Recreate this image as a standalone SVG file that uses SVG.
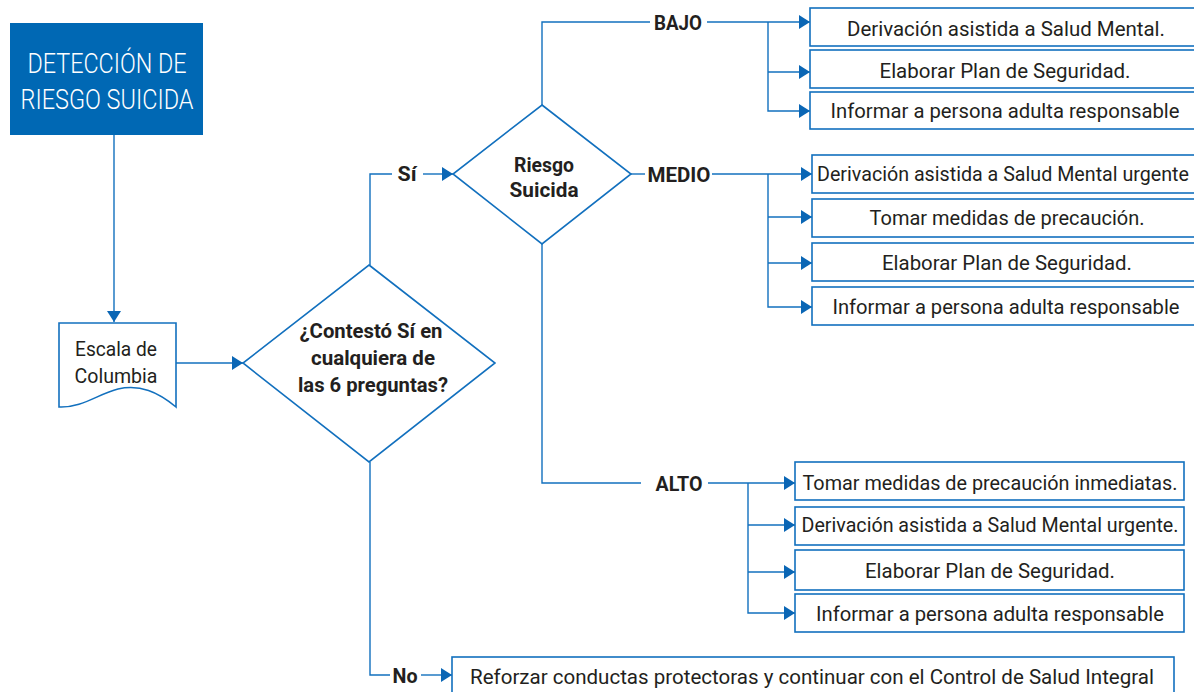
<svg xmlns="http://www.w3.org/2000/svg" width="1194" height="692" viewBox="0 0 1194 692">
<style>
.ln{fill:none;stroke:#1270BE;stroke-width:1.4}
.bx{fill:#fff;stroke:#1270BE;stroke-width:1.6}
.t{font-family:Roboto,"Noto Sans","Liberation Sans",sans-serif;font-size:21px;fill:#231F20;text-anchor:middle}
.b{font-weight:bold}
.w{fill:#fff;font-size:28px;font-weight:300}
.s{font-size:19.5px}
</style>
<defs>
<marker id="ah" markerUnits="userSpaceOnUse" markerWidth="12" markerHeight="15" refX="11" refY="7.5" orient="auto">
<path d="M0,0.5 L11,7.5 L0,14.5 z" fill="#0A66B5"/>
</marker>
</defs>
<g id="connectors">
<path class="ln" d="M114,135 V322" marker-end="url(#ah)"/>
<path class="ln" d="M176,363 H243" marker-end="url(#ah)"/>
<path class="ln" d="M370,265 V174 H392"/>
<path class="ln" d="M423,174 H453" marker-end="url(#ah)"/>
<path class="ln" d="M542,105 V22 H650"/>
<path class="ln" d="M707,22 H810" marker-end="url(#ah)"/>
<path class="ln" d="M768,22 V111 H810" marker-end="url(#ah)"/>
<path class="ln" d="M768,72 H810" marker-end="url(#ah)"/>
<path class="ln" d="M631,174 H645"/>
<path class="ln" d="M712,174 H812" marker-end="url(#ah)"/>
<path class="ln" d="M768,174 V307 H812" marker-end="url(#ah)"/>
<path class="ln" d="M768,217 H812" marker-end="url(#ah)"/>
<path class="ln" d="M768,263 H812" marker-end="url(#ah)"/>
<path class="ln" d="M542,244 V483 H641"/>
<path class="ln" d="M708,483 H795" marker-end="url(#ah)"/>
<path class="ln" d="M748,483 V613 H795" marker-end="url(#ah)"/>
<path class="ln" d="M748,525 H795" marker-end="url(#ah)"/>
<path class="ln" d="M748,572 H795" marker-end="url(#ah)"/>
<path class="ln" d="M370,462 V675 H390"/>
<path class="ln" d="M421,675 H452" marker-end="url(#ah)"/>
</g>
<g id="labels">
<text class="t b" x="407" y="181" textLength="19" lengthAdjust="spacingAndGlyphs">Sí</text>
<text class="t b" x="678" y="30" textLength="48" lengthAdjust="spacingAndGlyphs">BAJO</text>
<text class="t b" x="679" y="182" textLength="63" lengthAdjust="spacingAndGlyphs">MEDIO</text>
<text class="t b" x="679" y="491" textLength="47" lengthAdjust="spacingAndGlyphs">ALTO</text>
<text class="t b" x="405" y="683" textLength="25" lengthAdjust="spacingAndGlyphs">No</text>
</g>
<g id="title">
<rect x="10" y="23" width="193" height="112" fill="#0068B4"/>
<text class="t w" x="107" y="73" textLength="159" lengthAdjust="spacingAndGlyphs">DETECCIÓN DE</text>
<text class="t w" x="107" y="109" textLength="173" lengthAdjust="spacingAndGlyphs">RIESGO SUICIDA</text>
</g>
<g id="escala">
<path class="bx" d="M59,323 H176 V407 C158,392 140,384 118,389 C98,394 82,408 59,407 Z"/>
<text class="t" x="116" y="356" font-size="22" textLength="82" lengthAdjust="spacingAndGlyphs">Escala de</text>
<text class="t" x="116" y="383" font-size="22" textLength="83" lengthAdjust="spacingAndGlyphs">Columbia</text>
</g>
<g id="pregunta">
<path class="bx" d="M369,265 L495,363 L369,462 L243,363 Z" stroke-width="1.3"/>
<text class="t b" x="371" y="338" font-size="22" textLength="143" lengthAdjust="spacingAndGlyphs">¿Contestó Sí en</text>
<text class="t b" x="373" y="365" font-size="22" textLength="124" lengthAdjust="spacingAndGlyphs">cualquiera de</text>
<text class="t b" x="373" y="392" font-size="22" textLength="150" lengthAdjust="spacingAndGlyphs">las 6 preguntas?</text>
</g>
<g id="riesgo">
<path class="bx" d="M542,105 L631,174 L542,244 L453,174 Z" stroke-width="1.3"/>
<text class="t b" x="544" y="172" font-size="22" textLength="60" lengthAdjust="spacingAndGlyphs">Riesgo</text>
<text class="t b" x="544" y="197" font-size="22" textLength="69" lengthAdjust="spacingAndGlyphs">Suicida</text>
</g>
<g id="bajo1"><rect class="bx" x="810" y="8" width="400" height="38"/><text class="t" x="1006" y="36" textLength="318" lengthAdjust="spacingAndGlyphs">Derivación asistida a Salud Mental.</text></g>
<g id="bajo2"><rect class="bx" x="810" y="50" width="400" height="38"/><text class="t" x="1005" y="78" textLength="251" lengthAdjust="spacingAndGlyphs">Elaborar Plan de Seguridad.</text></g>
<g id="bajo3"><rect class="bx" x="810" y="92" width="400" height="37"/><text class="t" x="1005" y="118" textLength="349" lengthAdjust="spacingAndGlyphs">Informar a persona adulta responsable</text></g>
<g id="medio1"><rect class="bx" x="812" y="155" width="400" height="38"/><text class="t s" x="1003" y="181" textLength="372" lengthAdjust="spacingAndGlyphs">Derivación asistida a Salud Mental urgente</text></g>
<g id="medio2"><rect class="bx" x="812" y="199" width="400" height="38"/><text class="t" x="1007" y="225" textLength="275" lengthAdjust="spacingAndGlyphs">Tomar medidas de precaución.</text></g>
<g id="medio3"><rect class="bx" x="812" y="243" width="400" height="38"/><text class="t" x="1007" y="270" textLength="250" lengthAdjust="spacingAndGlyphs">Elaborar Plan de Seguridad.</text></g>
<g id="medio4"><rect class="bx" x="812" y="287" width="400" height="38"/><text class="t" x="1006" y="314" textLength="347" lengthAdjust="spacingAndGlyphs">Informar a persona adulta responsable</text></g>
<g id="alto1"><rect class="bx" x="795" y="462" width="389" height="38"/><text class="t s" x="990" y="490" textLength="375" lengthAdjust="spacingAndGlyphs">Tomar medidas de precaución inmediatas.</text></g>
<g id="alto2"><rect class="bx" x="795" y="507" width="389" height="38"/><text class="t s" x="990" y="532" textLength="377" lengthAdjust="spacingAndGlyphs">Derivación asistida a Salud Mental urgente.</text></g>
<g id="alto3"><rect class="bx" x="795" y="550" width="389" height="40"/><text class="t" x="990" y="578" textLength="250" lengthAdjust="spacingAndGlyphs">Elaborar Plan de Seguridad.</text></g>
<g id="alto4"><rect class="bx" x="795" y="594" width="389" height="38"/><text class="t" x="990" y="621" textLength="348" lengthAdjust="spacingAndGlyphs">Informar a persona adulta responsable</text></g>
<g id="no1"><rect class="bx" x="452" y="657" width="722" height="50"/><text class="t" x="812" y="684" textLength="684" lengthAdjust="spacingAndGlyphs">Reforzar conductas protectoras y continuar con el Control de Salud Integral</text></g>
</svg>
